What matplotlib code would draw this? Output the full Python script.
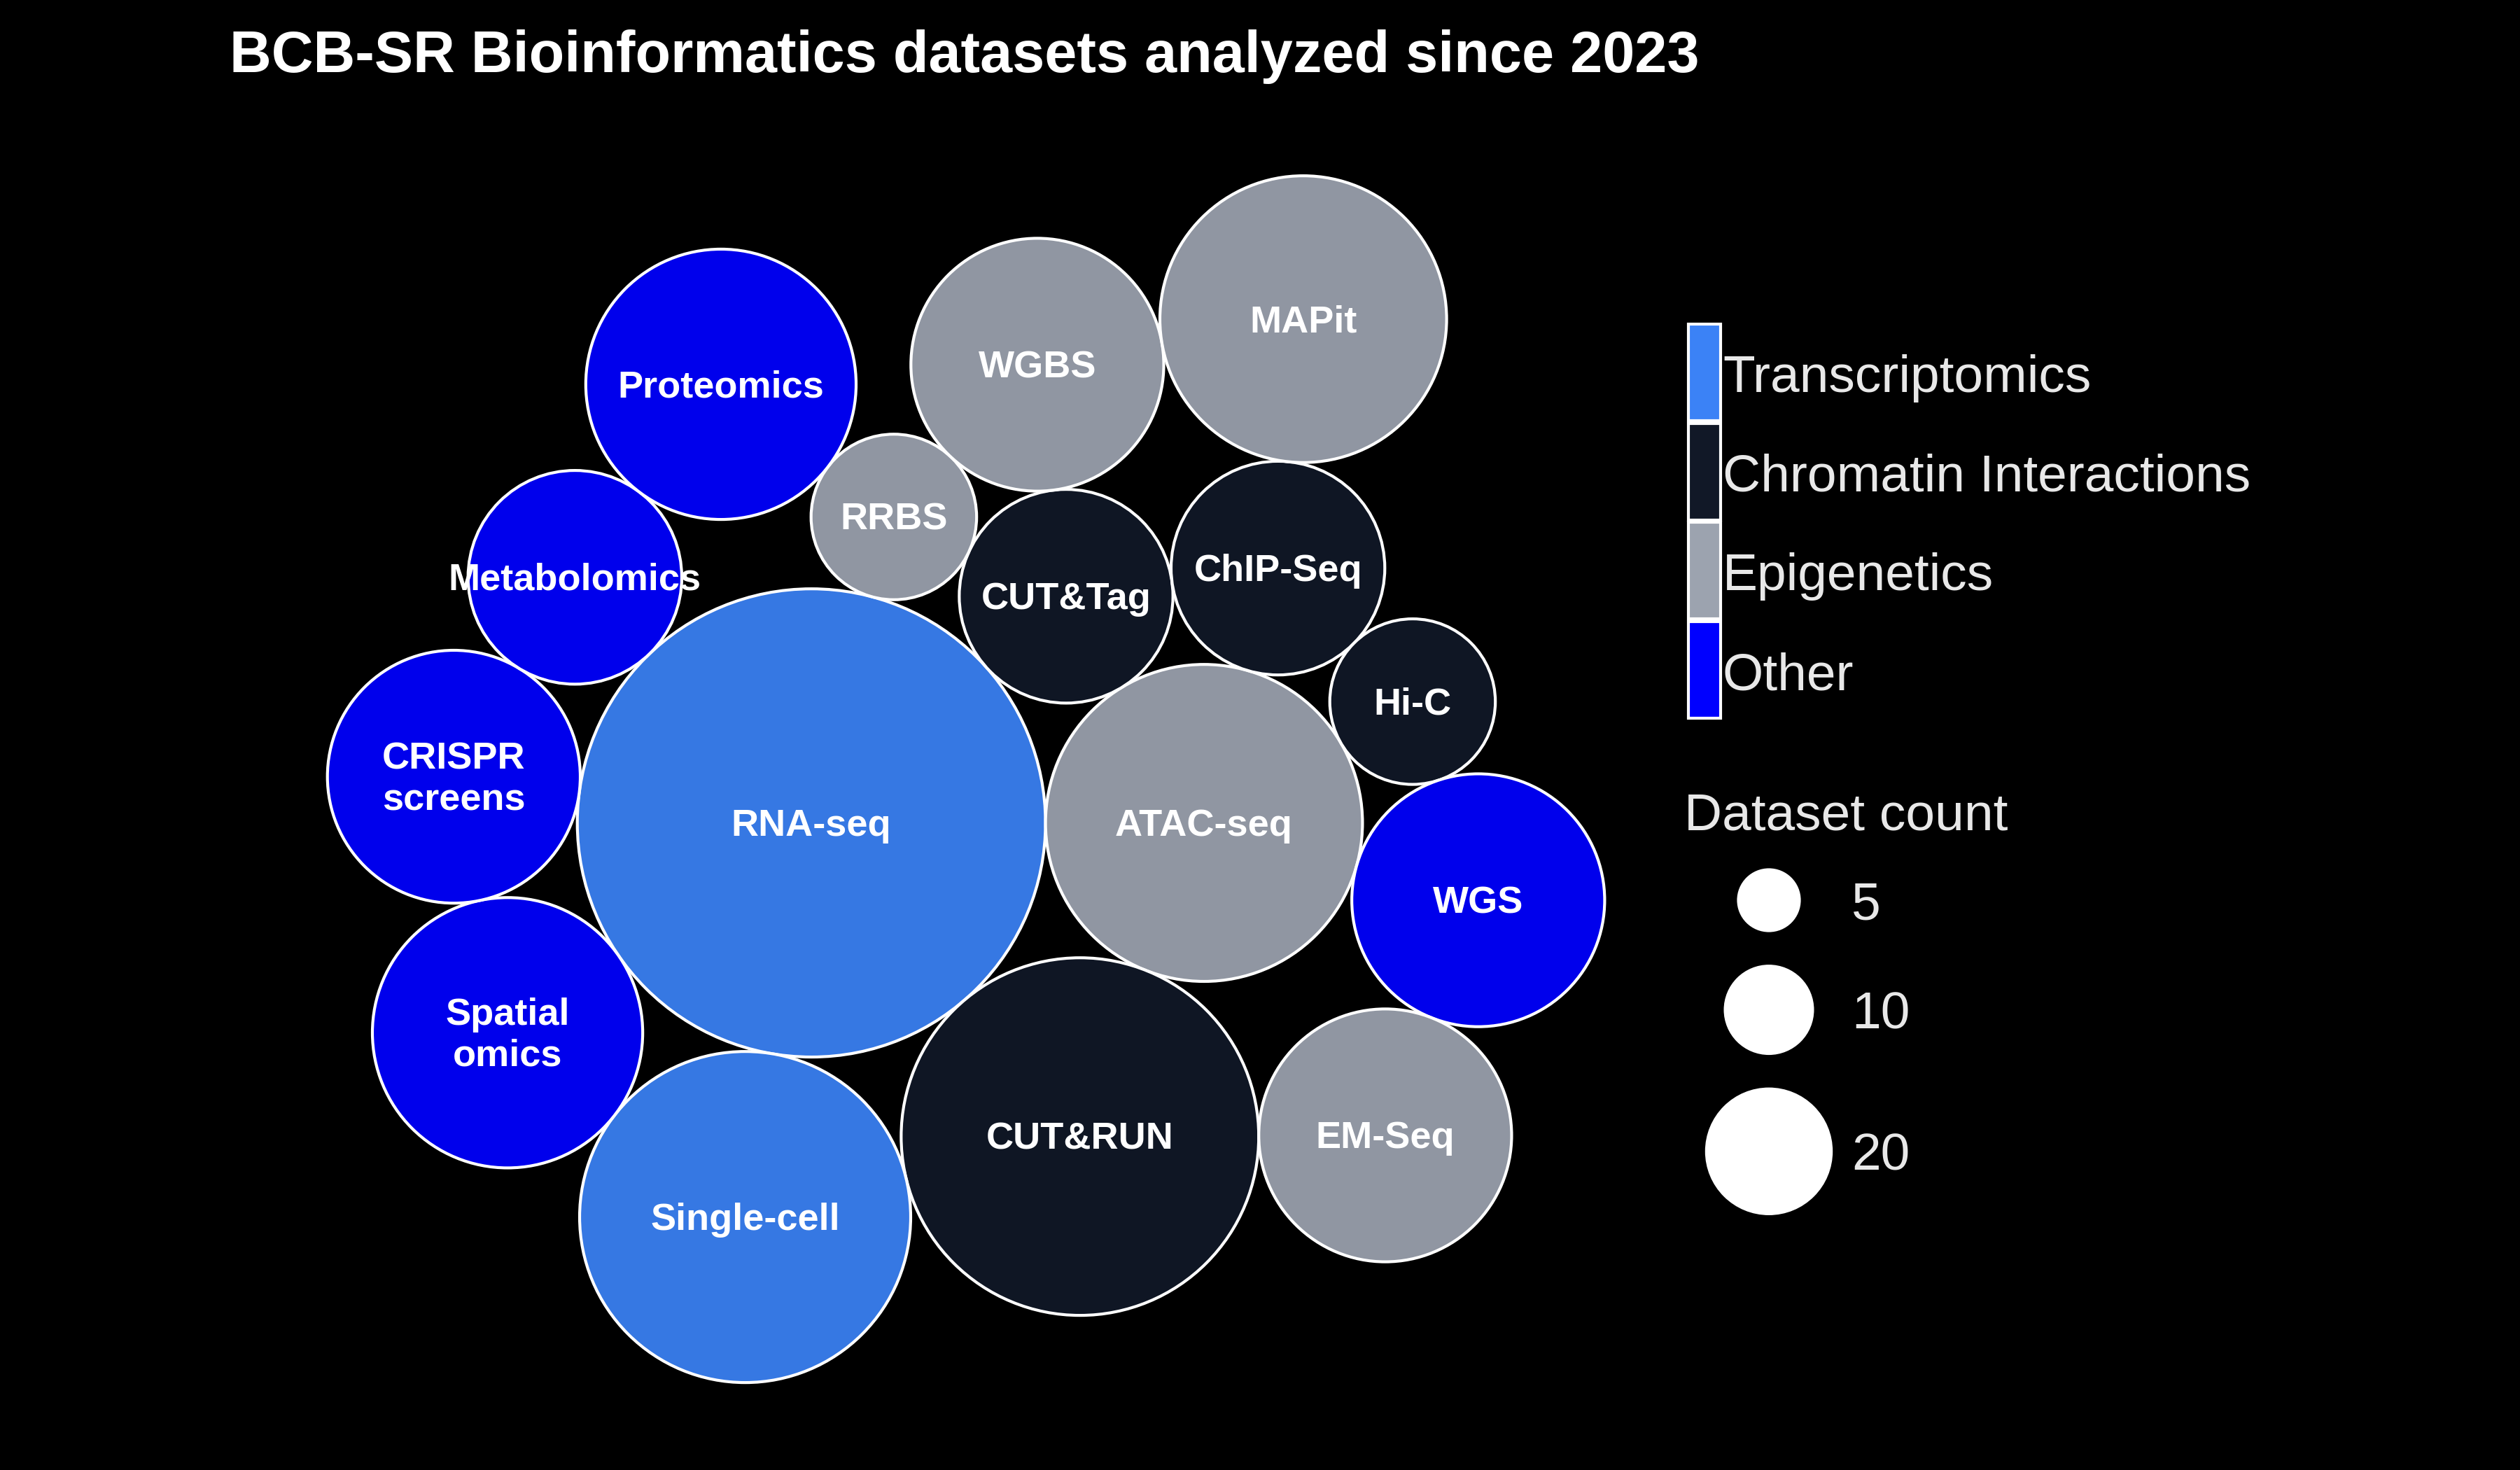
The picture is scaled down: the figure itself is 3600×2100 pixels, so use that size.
import numpy as np
import matplotlib
matplotlib.use("Agg")
import matplotlib.pyplot as plt
from matplotlib.patches import Circle, Rectangle
from matplotlib.colors import to_rgba
from matplotlib.transforms import offset_copy

plt.rcParams['font.family'] = ['Liberation Sans', 'DejaVu Sans']

# datasets in the order they were fed to the circle packer
datasets = ["RNA-seq", "ATAC-seq", "CUT&RUN", "CUT&Tag", "ChIP-Seq", "Hi-C",
            "WGS", "EM-Seq", "RRBS", "WGBS", "MAPit", "Single-cell",
            "Spatial\nomics", "CRISPR\nscreens", "Metabolomics", "Proteomics"]
counts = [24, 11, 14, 5, 5, 3, 7, 7, 3, 7, 9, 12, 8, 7, 5, 8]
groups = ["Transcriptomics", "Epigenetics", "Chromatin Interactions",
          "Chromatin Interactions", "Chromatin Interactions", "Chromatin Interactions",
          "Other", "Epigenetics", "Epigenetics", "Epigenetics", "Epigenetics",
          "Transcriptomics", "Other", "Other", "Other", "Other"]

categories = ["Transcriptomics", "Chromatin Interactions", "Epigenetics", "Other"]
cat_colors = ["#3B82F6", "#111827", "#9CA3AF", "#0000FF"]
size_breaks = [5, 10, 20]

title = "BCB-SR Bioinformatics datasets analyzed since 2023"


def place(x, y, r, a, b, c):
    # put circle c tangent to a and b, on the right hand side of a -> b
    db = r[a] + r[c]
    dx = x[b] - x[a]
    dy = y[b] - y[a]
    da = r[b] + r[c]
    dc = dx * dx + dy * dy
    da *= da
    db *= db
    px = 0.5 + (db - da) / (2 * dc)
    py = np.sqrt(max(0.0, 2 * da * (db + dc) - (db - dc) ** 2 - da * da)) / (2 * dc)
    x[c] = x[a] + px * dx + py * dy
    y[c] = y[a] + px * dy - py * dx


def overlaps(x, y, r, i, j):
    return np.hypot(x[i] - x[j], y[i] - y[j]) < r[i] + r[j] - 1e-6


def closest(x, y, start, nxt):
    best, bd = start, np.hypot(x[start], y[start])
    k = nxt[start]
    while k != start:
        d = np.hypot(x[k], y[k])
        if d < bd:
            best, bd = k, d
        k = nxt[k]
    return best


def progressive_layout(areas):
    # front-chain packing (Wang et al.), like packcircles::circleProgressiveLayout
    r = np.sqrt(np.asarray(areas, float) / np.pi)
    n = len(r)
    x = np.zeros(n)
    y = np.zeros(n)
    nxt = list(range(n))
    prv = list(range(n))
    x[0] = -r[0]
    x[1] = r[1]
    place(x, y, r, 0, 1, 2)
    nxt[0], nxt[2], nxt[1] = 2, 1, 0
    prv[2], prv[1], prv[0] = 0, 2, 1
    a = closest(x, y, 0, nxt)
    b = nxt[a]
    for i in range(3, n):
        while True:
            place(x, y, r, a, b, i)
            j, s1, hit = nxt[b], 1, False
            while j != a:
                if overlaps(x, y, r, i, j):
                    hit = True
                    break
                j = nxt[j]
                s1 += 1
            if not hit:
                break
            k, s2 = prv[a], 1
            while k != prv[j]:
                if overlaps(x, y, r, i, k):
                    break
                k = prv[k]
                s2 += 1
            if s1 < s2 or (s1 == s2 and r[b] < r[a]):
                nxt[a], prv[j] = j, a
                b = j
            else:
                nxt[k], prv[b] = b, k
                a = k
        nxt[a], prv[i], nxt[i], prv[b] = i, a, b, i
        a = closest(x, y, i, nxt)
        b = nxt[a]
    return x, y, r


cx, cy, cr = progressive_layout(counts)
col_of = dict(zip(categories, cat_colors))

W, H = 3600, 2100
fig = plt.figure(figsize=(12, 7), dpi=300, facecolor="black")

# bubble panel, 121 px per layout unit, origin placed in pixel space
PX = 121.0
ox, oy = 1493.6, 1175.6
ax = fig.add_axes([0, 0, 1, 1])
ax.set_xlim(-ox / PX, (W - ox) / PX)
ax.set_ylim(-(H - oy) / PX, oy / PX)
ax.axis("off")
lab_tr = offset_copy(ax.transData, fig=fig, x=0, y=-1.0, units="points")
for xi, yi, ri, lab, g in zip(cx, cy, cr, datasets, groups):
    ax.add_patch(Circle((xi, yi), ri, facecolor=to_rgba(col_of[g], 0.93),
                        edgecolor="white", lw=1.0))
    ax.text(xi, yi, lab, ha="center", va="center", color="white",
            fontsize=13, fontweight="bold", linespacing=1.22, transform=lab_tr)

# overlay in pixel coordinates for title and legends
lax = fig.add_axes([0, 0, 1, 1], facecolor="none")
lax.set_xlim(0, W)
lax.set_ylim(H, 0)
lax.axis("off")

lax.text(328, 103, title, color="white", fontsize=19.9, fontweight="bold",
         ha="left", va="baseline")

txt_col = "#E8E8E8"
key_top, key_h, key_pitch = 463, 138, 141.7
for i, (cat, colr) in enumerate(zip(categories, cat_colors)):
    top = key_top + i * key_pitch
    lax.add_patch(Rectangle((2412, top), 46, key_h, facecolor=colr,
                            edgecolor="white", lw=1.0))
    lax.text(2461, top + key_h / 2 + 28, cat, color=txt_col, fontsize=18,
             ha="left", va="baseline")

lax.text(2406, 1185, "Dataset count", color=txt_col, fontsize=18,
         ha="left", va="baseline")
cyy = 1286
prev_r = None
for v in size_breaks:
    rr = 45.6 * np.sqrt(v / size_breaks[0])
    if prev_r is not None:
        cyy += prev_r + 46.5 + rr
    lax.add_patch(Circle((2527, cyy), rr, facecolor="white", edgecolor="none"))
    lax.text(2645, cyy + 27, str(v), color=txt_col, fontsize=18,
             ha="left", va="baseline")
    prev_r = rr

fig.savefig("out.png", dpi=300, facecolor="black")
